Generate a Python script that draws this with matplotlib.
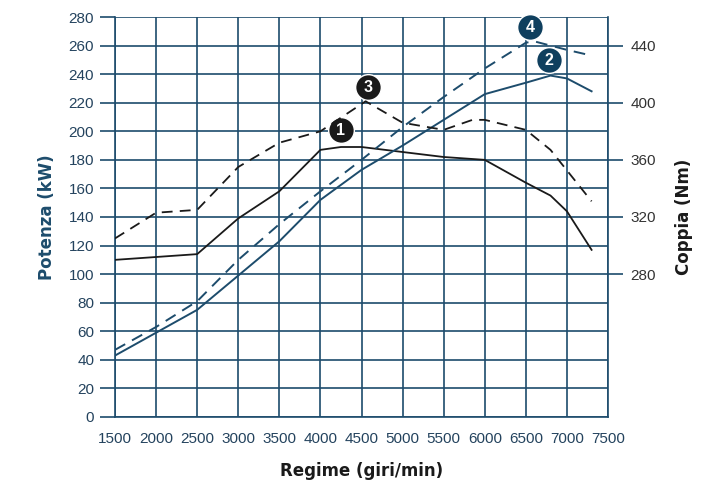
import matplotlib
matplotlib.use("Agg")
import matplotlib.pyplot as plt

# --- dati ---
# curva 1: potenza (kW), nera continua
rpm_p1 = [1500, 2500, 3000, 3500, 4000, 4250, 4500, 5500, 6000, 6500, 6800, 7000, 7300]
kw_1 = [110, 114, 139, 158, 187, 189, 189, 182, 180, 164, 155, 144, 117]

# curva 2: potenza (kW), blu continua
rpm_p2 = [1500, 2000, 2500, 3000, 3500, 4000, 4500, 5000, 5500, 6000, 6500, 6800, 7000, 7300]
kw_2 = [43, 59, 75, 99, 123, 152, 173, 190, 208, 226, 234, 239, 237, 228]

# curva 3: coppia (Nm), nera tratteggiata
rpm_c3 = [1500, 2000, 2500, 3000, 3500, 4000, 4550, 5000, 5500, 5850, 6000, 6500, 6800, 7300]
nm_3 = [305, 323, 325, 355, 372, 380, 401, 386, 381, 388, 388, 381, 367, 331]

# curva 4: coppia (Nm), blu tratteggiata
rpm_c4 = [1500, 2000, 2500, 3000, 3500, 4000, 4500, 5000, 5500, 6000, 6500, 6600, 7000, 7300]
nm_4 = [227, 243, 261, 290, 315, 338, 360, 383, 404, 424, 442, 443, 437, 433]

# etichette numerate (rpm, kW sull'asse sinistro)
badge_text = ["1", "2", "3", "4"]
badge_rpm = [4250, 6780, 4580, 6550]
badge_kw = [201, 250, 231, 273]

x_ticks = list(range(1500, 8000, 500))
kw_ticks = list(range(0, 300, 20))
nm_ticks = [280, 320, 360, 400, 440]

BLUE = "#1d4c6c"
BADGE_BLUE = "#0f3f5e"
TICK_COL = "#24435e"
BLACK = "#1a1a1a"

fig = plt.figure(figsize=(7.21, 4.86), dpi=100)
ax = fig.add_axes([0.1595, 0.142, 0.6838, 0.823])
ax2 = ax.twinx()

# --- curve ---
ax.plot(rpm_p1, kw_1, color=BLACK, lw=1.3, zorder=3)
ax.plot(rpm_p2, kw_2, color=BLUE, lw=1.4, zorder=3)
ax2.plot(rpm_c3, nm_3, color=BLACK, lw=1.3, linestyle=(0, (6, 4)), zorder=3)
ax2.plot(rpm_c4, nm_4, color=BLUE, lw=1.4, linestyle=(0, (6, 4)), zorder=3)

# --- assi ---
ax.set_xlim(1500, 7500)
ax.set_ylim(0, 280)
ax2.set_ylim(180, 460)
ax.set_xticks(x_ticks)
ax.set_yticks(kw_ticks)
ax2.set_yticks(nm_ticks)

ax.grid(True, color=BLUE, lw=1.2, zorder=1)
ax.set_axisbelow(True)
for s in ["top", "right"]:
    ax.spines[s].set_visible(False)
for s in ["top", "left", "bottom"]:
    ax2.spines[s].set_visible(False)
ax.spines["left"].set_color(BLUE)
ax.spines["bottom"].set_color(BLUE)
ax2.spines["right"].set_color(BLUE)
for sp in [ax.spines["left"], ax.spines["bottom"], ax2.spines["right"]]:
    sp.set_linewidth(1.2)

ax.tick_params(axis="y", length=11, width=1.2, color=BLUE, labelcolor=TICK_COL, pad=4)
ax.tick_params(axis="x", length=0, labelcolor=TICK_COL, pad=11)
ax2.tick_params(axis="y", length=11, width=1.2, color=BLUE, labelcolor="#333333", pad=5)
for lab in ax.get_xticklabels() + ax.get_yticklabels() + ax2.get_yticklabels():
    lab.set_fontfamily("Liberation Sans")
    lab.set_fontsize(11)

label_kw = dict(fontsize=13.3, fontweight="bold", family="DejaVu Sans", fontstretch="condensed")
ax.set_ylabel("Potenza (kW)", color=BLUE, labelpad=9, **label_kw)
ax2.set_ylabel("Coppia (Nm)", color=BLACK, labelpad=14, **label_kw)
ax.set_xlabel("Regime (giri/min)", color=BLACK, labelpad=11, **label_kw)

# --- etichette numerate ---
for t, r, k in zip(badge_text, badge_rpm, badge_kw):
    col = BLACK if t in ("1", "3") else BADGE_BLUE
    ax.plot(r, k, "o", ms=18.5, color=col, mec="white", mew=1.0, zorder=5, clip_on=False)
    ax.text(r, k - 0.5, t, color="white", ha="center", va="center", fontsize=11.5,
            fontweight="bold", family="Liberation Sans", zorder=6)

fig.savefig("out.png", dpi=100)
